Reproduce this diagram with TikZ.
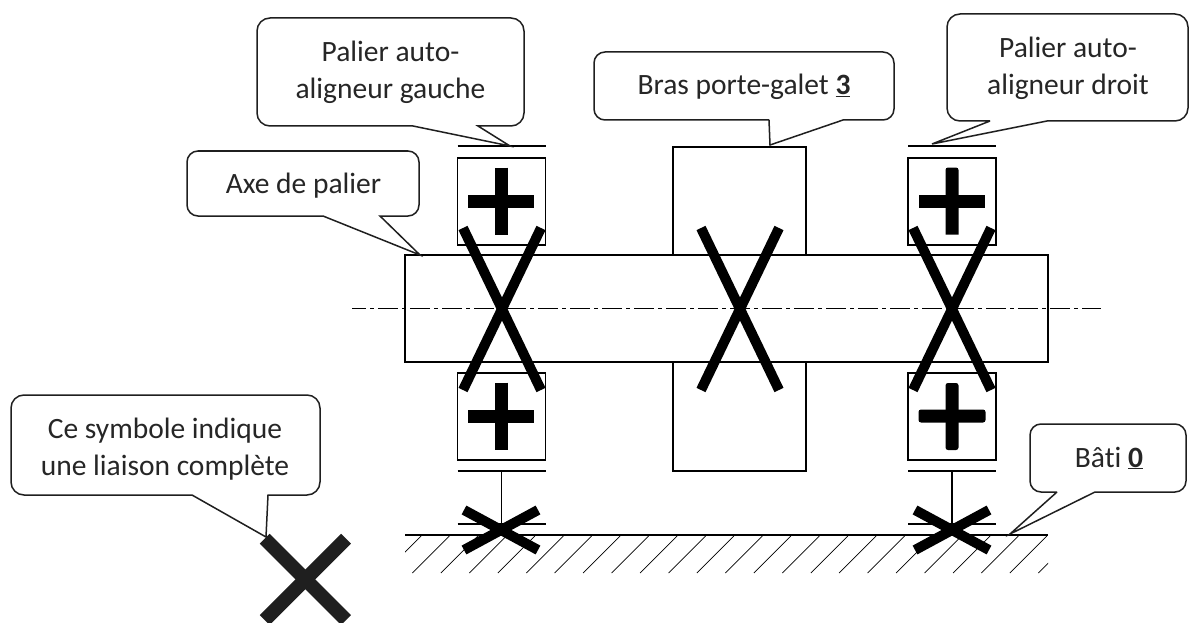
\documentclass[tikz,border=0pt]{standalone}
\usepackage{fontspec}
\setmainfont[Ligatures=NoCommon]{Carlito}
\newcommand{\callout}[9]{%
  \draw[calloutline] (#5,#4) [sharp corners] -- (#7,#8) -- (#6,#4) [rounded corners=#9pt] -- (#3,#4) -- (#3,#2) -- (#1,#2) -- (#1,#4) [sharp corners] -- (#5,#4);}
\newcommand{\bearing}[1]{%
  \begin{scope}[shift={(#1,0)}]
    \draw[fine] (-44,146) -- (44,146);
    \draw[fine] (-44,158) rectangle (44,245);
    \draw[fine] (-44,373) rectangle (44,460);
    \draw[fine] (-44,471) -- (44,471);
    \draw[fine] (0,471) -- (0,530);
    \draw[fine] (-44,524) -- (44,524);
  \end{scope}}
\newcommand{\plusmark}[2]{%
  \draw[plusline] (#1-33,#2) -- (#1+33,#2);
  \draw[plusline] (#1,#2-33.5) -- (#1,#2+33.5);}
\newcommand{\bigcross}[1]{%
  \draw[crossline] (#1-39,228) -- (#1+39,390);
  \draw[crossline] (#1+39,228) -- (#1-39,390);}
\newcommand{\groundcross}[1]{%
  \draw[groundline] (#1-37,510) -- (#1+37,550);
  \draw[groundline] (#1+37,510) -- (#1-37,550);}
\tikzset{
  x=1pt,y=-1pt,
  calloutline/.style={draw=black!88,line width=1.5pt,fill=white},
  fine/.style={draw=black,line width=1.8pt,fill=white},
  plusline/.style={draw=black,line width=13pt},
  crossline/.style={draw=black,line width=10pt},
  groundline/.style={draw=black,line width=10pt},
  hatchline/.style={draw=black,line width=0.7pt},
  label/.style={text=black!85,font=\fontsize{29.5}{37}\selectfont,align=center,inner sep=0pt},
  axisline/.style={draw=black,line width=1pt,dash pattern=on 20pt off 4pt on 4pt off 4pt,dash phase=6pt},
  roundplus/.style={fill=black,rounded corners=2.5pt},
}
\begin{document}
\begin{tikzpicture}
\useasboundingbox (0,0) rectangle (1191,623);
% hatching
\begin{scope}
  \clip (405,536) rectangle (1048,573);
  \foreach \k in {0,...,23}
    \draw[hatchline] ({421+28.45*\k},536) -- ({384+28.45*\k},573);
\end{scope}
\draw[fine] (405,535) -- (1048,535);
% arm and shaft
\draw[fine] (673,147) rectangle (806,471);
\bearing{501.5}
\bearing{952}
\draw[fine] (405,255) rectangle (1048,362);
\draw[axisline] (352,308) -- (1101,308);
% marks
\plusmark{501}{201}\plusmark{501}{416}
\draw[plusline] (919,201) -- (985,201);
\fill[black] (945.5,234.5) [rounded corners=2.5pt] -- (945.5,167.5) -- (958.5,167.5) [sharp corners] -- (958.5,234.5) -- cycle;
\fill[roundplus] (918.5,409.5) rectangle (985.5,422.5);
\fill[roundplus] (945.5,383) rectangle (958.5,450);
\bigcross{502}\bigcross{740}\bigcross{952}
\groundcross{501}\groundcross{952}
% callouts
\callout{257}{18}{524}{126}{413}{478}{510}{146}{13}
\callout{187}{151}{419}{216}{323}{380}{420}{255}{11}
\callout{594}{52}{894}{120}{769}{843}{770}{145}{11}
\callout{947}{14}{1188}{121}{990}{1047}{932}{144}{13}
\callout{1030}{424}{1186}{492}{1057}{1095}{1010}{534}{11}
\callout{11}{395}{320}{495}{192}{268}{266}{537}{13}
% big symbol
\draw[draw=black!88,line width=14pt] (264.7,538.7) -- (346,620);
\draw[draw=black!88,line width=14pt] (346,538.7) -- (264.7,620);
% texts
\node[label] (t1) at (390.5,72.5) {Palier auto-\\aligneur gauche};
\node[label] (t2) at (303.5,186) {Axe de palier};
\node[label] (t3) at (744,87) {Bras porte-galet \underline{\textbf{3}}};
\node[label] (t4) at (1068,68) {Palier auto-\\aligneur droit};
\node[label] (t5) at (1109,458) {Bâti \underline{\textbf{0}}};
\node[label] (t6) at (165,449.5) {Ce symbole indique\\une liaison complète};
\end{tikzpicture}
\end{document}
